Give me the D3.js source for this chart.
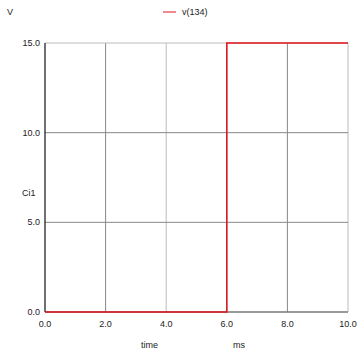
<!DOCTYPE html>
<html>
<head>
<meta charset="utf-8">
<script src="https://cdn.jsdelivr.net/npm/d3@7"></script>
<style>
	body { margin: 0; background: #fff; }
	text { font-family: "Liberation Sans", Arial, sans-serif; font-size: 9px; fill: #222; }
</style>
</head>
<body>
<div id="graph"></div>
<script>
// DATA
var times = [0, 6, 6, 10];
var volts = [0, 0, 15, 15];
var xTicks = [0, 2, 4, 6, 8, 10];
var yTicks = [0, 5, 10, 15];
var seriesName = "v(134)";

var data = times.map(function (t, i) {
	return { time: t, v: volts[i] };
});

// DIMENSIONS
var margin = { top: 43, right: 16, bottom: 48, left: 45 },
	width = 364 - margin.left - margin.right,
	height = 360 - margin.top - margin.bottom;

var root = d3
	.select("#graph")
	.append("svg")
	.attr("width", 364)
	.attr("height", 360);

var svg = root
	.append("g")
	.attr("transform", "translate(" + margin.left + "," + margin.top + ")");

var x = d3.scaleLinear().domain([0, 10]).range([0, width]);
var y = d3.scaleLinear().domain([0, 15]).range([height, 0]);

// GRID
svg
	.selectAll(".vgrid")
	.data(xTicks.slice(1))
	.join("line")
	.attr("x1", function (d) { return x(d); })
	.attr("x2", function (d) { return x(d); })
	.attr("y1", 0)
	.attr("y2", height)
	.attr("stroke", function (d) { return d === 10 || d === 4 ? "#bbb" : "#888"; })
	.attr("stroke-width", 1);

svg
	.selectAll(".hgrid")
	.data(yTicks.slice(1))
	.join("line")
	.attr("x1", 0)
	.attr("x2", width)
	.attr("y1", function (d) { return y(d); })
	.attr("y2", function (d) { return y(d); })
	.attr("stroke", function (d) { return d === 15 ? "#bbb" : "#888"; })
	.attr("stroke-width", 1);

// AXES
svg
	.append("line")
	.attr("x1", 0).attr("x2", width)
	.attr("y1", height).attr("y2", height)
	.attr("stroke", "#777").attr("stroke-width", 1.5);
svg
	.append("line")
	.attr("x1", 0).attr("x2", 0)
	.attr("y1", 0).attr("y2", height)
	.attr("stroke", "#111").attr("stroke-width", 1.2);

// TICK LABELS
svg
	.selectAll(".xlab")
	.data(xTicks)
	.join("text")
	.attr("x", function (d) { return x(d); })
	.attr("y", height + 15)
	.attr("text-anchor", "middle")
	.text(function (d) { return d.toFixed(1); });

svg
	.selectAll(".ylab")
	.data(yTicks)
	.join("text")
	.attr("x", -5)
	.attr("y", function (d) { return y(d) + 3; })
	.attr("text-anchor", "end")
	.text(function (d) { return d.toFixed(1); });

// LINE
svg
	.append("path")
	.datum(data)
	.attr("fill", "none")
	.attr("stroke", "#e0141c")
	.attr("stroke-width", 1.5)
	.attr(
		"d",
		d3
			.line()
			.x(function (d) { return x(d.time); })
			.y(function (d) { return y(d.v); })
	);

// LABELS
root.append("text").attr("x", 7).attr("y", 15).text("V");
root.append("text").attr("x", 22).attr("y", 196).text("Ci1");
root.append("text").attr("x", 141).attr("y", 348).text("time");
root.append("text").attr("x", 233).attr("y", 348).text("ms");

// LEGEND
root
	.append("line")
	.attr("x1", 163).attr("x2", 176)
	.attr("y1", 12).attr("y2", 12)
	.attr("stroke", "#e0141c").attr("stroke-width", 1);
root.append("text").attr("x", 182).attr("y", 15).text(seriesName);
</script>
</body>
</html>
